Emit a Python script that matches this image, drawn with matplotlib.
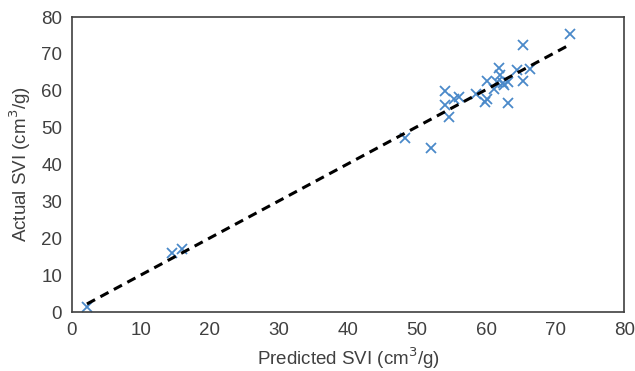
import numpy as np
import matplotlib.pyplot as plt

plt.rcParams['font.family'] = ['Liberation Sans', 'DejaVu Sans']

# Predicted vs actual SVI (cm3/g)
predicted = [2.2, 14.5, 16.0, 48.2, 52.0, 54.0, 54.1, 54.7, 55.4, 56.1,
             58.6, 59.8, 60.1, 60.2, 61.2, 61.6, 61.9, 62.0, 62.4, 62.6,
             63.2, 63.2, 64.5, 65.4, 65.4, 66.3, 72.1]
actual = [1.4, 15.9, 17.1, 47.3, 44.4, 59.9, 56.1, 52.8, 57.9, 58.2,
          59.1, 57.0, 62.7, 57.7, 60.6, 62.4, 66.3, 64.2, 62.0, 61.5,
          62.4, 56.6, 65.6, 62.6, 72.5, 65.9, 75.5]

x = np.array(predicted)
y = np.array(actual)
slope, intercept = np.polyfit(x, y, 1)
xs = np.array([x.min(), x.max()])

fig = plt.figure(figsize=(6.35, 3.71), dpi=100)
ax = fig.add_axes([0.113, 0.159, 0.870, 0.795])

ax.plot(x, y, 'x', color='#4a89c9', markersize=7.5, markeredgewidth=1.3)
ax.plot(xs, slope * xs + intercept, '--', color='black', linewidth=2.2, dashes=(3, 2))

ax.set_xlim(0, 80)
ax.set_ylim(0, 80)
ax.set_xticks(range(0, 81, 10))
ax.set_yticks(range(0, 81, 10))
ax.tick_params(length=0, labelsize=13.5, colors='#404040', pad=7)
for s in ax.spines.values():
    s.set_color('#404040')
    s.set_linewidth(1.2)

ax.set_xlabel('Predicted SVI (cm$^3$/g)', fontsize=13.5, color='#404040', labelpad=5)
ax.set_ylabel('Actual SVI (cm$^3$/g)', fontsize=13.5, color='#404040', labelpad=6)

fig.savefig('out.png', dpi=100)
